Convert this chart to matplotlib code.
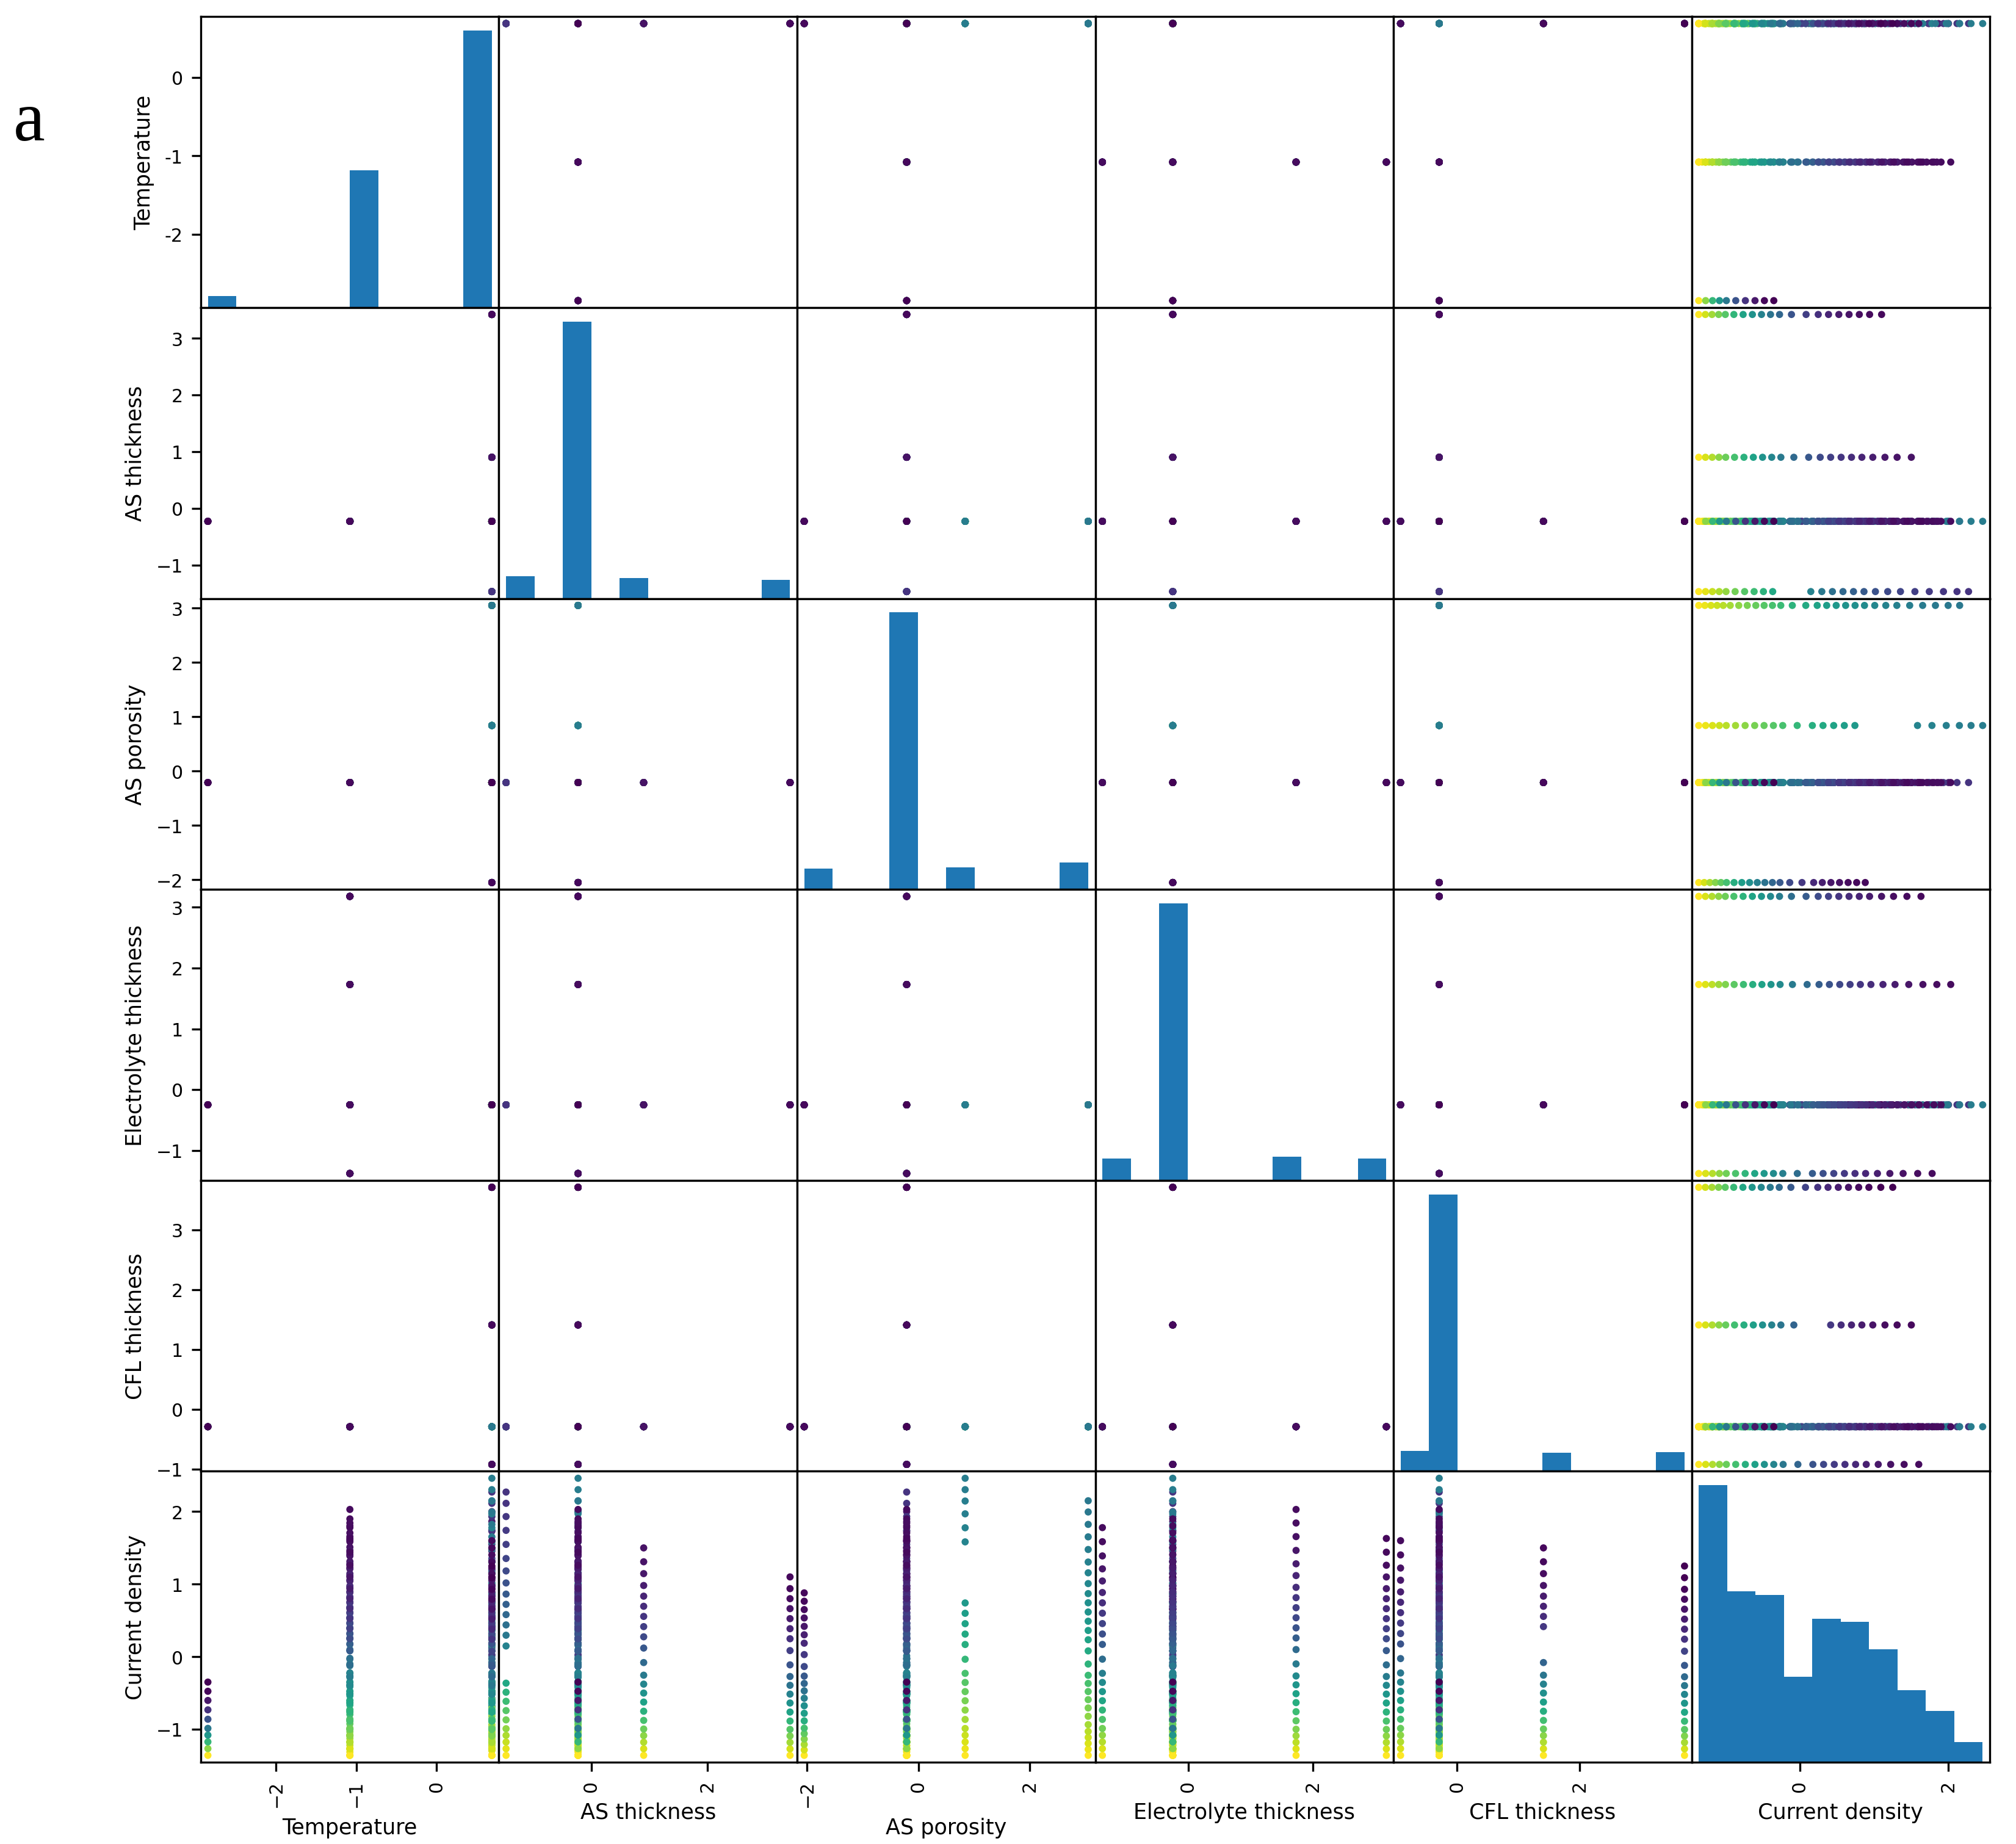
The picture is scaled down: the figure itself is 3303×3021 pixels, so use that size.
import numpy as np
import pandas as pd
import matplotlib
matplotlib.use("Agg")
import matplotlib.pyplot as plt
from matplotlib.ticker import MaxNLocator
from pandas.plotting import scatter_matrix

# ----- standardized settings of each run (one polarization sweep per run) -----
# order matters: later runs are drawn on top
run_temperature = [0.69, 0.69, 0.69, 0.69, 0.69, 0.69, 0.69, 0.69, 0.69, 0.69,
                   -1.08, -1.08, -1.08, -1.08, -2.85]
run_as_thickness = [-0.23, -1.47, 0.90, 3.42, -0.23, -0.23, -0.23, -0.23, -0.23, -0.23,
                    -0.23, -0.23, -0.23, -0.23, -0.23]
run_as_porosity = [-0.21, -0.21, -0.21, -0.21, -2.05, 0.84, 3.05, -0.21, -0.21, -0.21,
                   -0.21, -0.21, -0.21, -0.21, -0.21]
run_electrolyte = [-0.25, -0.25, -0.25, -0.25, -0.25, -0.25, -0.25, -0.25, -0.25, -0.25,
                   -1.38, -0.25, 1.73, 3.18, -0.25]
run_cfl = [-0.29, -0.29, -0.29, -0.29, -0.29, -0.29, -0.29, -0.92, 1.41, 3.71,
           -0.29, -0.29, -0.29, -0.29, -0.29]

# highest current density reached by each sweep, and colour value at its end
run_cd_max = [2.00, 2.27, 1.50, 1.10, 0.88, 2.46, 2.15, 1.60, 1.50, 1.25,
              1.78, 1.90, 2.03, 1.63, -0.35]
run_c_end = [0.08, 0.15, 0.05, 0.02, 0.02, 0.42, 0.40, 0.03, 0.02, 0.00,
             0.03, 0.03, 0.03, 0.02, 0.00]
# how finely each run was sampled (the two reference runs carry more points)
run_sampling = [1.4, 1.0, 1.0, 1.0, 1.2, 1.0, 1.1, 1.0, 1.0, 1.0,
                1.0, 1.95, 1.0, 1.0, 1.0]
# stretches of current density with no samples
run_gaps = {1: (-0.26, -0.01), 5: (0.77, 1.42), 8: (0.06, 0.33)}

# every sweep starts at open circuit
cd_min = -1.36
# sample density of the sweeps (points per unit current density), from the histogram
cd_bin_edges = np.linspace(-1.36, 2.46, 11)
cd_density = [11.0, 7.9, 8.1, 5.0, 7.1, 7.15, 6.1, 5.2, 5.3, 6.5]

columns = ["Temperature", "AS thickness", "AS porosity",
           "Electrolyte thickness", "CFL thickness", "Current density"]


def build_table():
    w_edges = np.concatenate([[0.0], np.cumsum(np.array(cd_density) * np.diff(cd_bin_edges))])
    rows = []
    colors = []
    for i in range(len(run_cd_max)):
        w_end = np.interp(run_cd_max[i], cd_bin_edges, w_edges)
        n = int(round(w_end * run_sampling[i])) + 1
        cd = np.interp(np.linspace(0, w_end, n), w_edges, cd_bin_edges)
        frac = (cd - cd_min) / (run_cd_max[i] - cd_min)
        col = run_c_end[i] + (1 - run_c_end[i]) * (1 - frac) ** 2
        keep = np.ones(len(cd), dtype=bool)
        if i in run_gaps:
            lo, hi = run_gaps[i]
            keep = ~((cd > lo) & (cd < hi))
        for v, c in zip(cd[keep], col[keep]):
            rows.append([run_temperature[i], run_as_thickness[i], run_as_porosity[i],
                         run_electrolyte[i], run_cfl[i], v])
            colors.append(c)
    return pd.DataFrame(rows, columns=columns), np.array(colors)


def main():
    df, colors = build_table()

    plt.rcParams["axes.labelsize"] = 8.4
    axes = scatter_matrix(df, c=colors, cmap="viridis", figsize=(11.01, 10.073),
                          alpha=1.0, marker="o", s=8, linewidths=0, edgecolors="none",
                          diagonal="hist")
    fig = plt.gcf()
    fig.subplots_adjust(left=0.0996, right=0.987, top=0.9907, bottom=0.0443,
                        wspace=0, hspace=0)
    for ax in axes.flat:
        ax.tick_params(labelsize=7.2)
    # bottom row: fewer x ticks, as in the original
    for ax in axes[-1]:
        ax.xaxis.set_major_locator(MaxNLocator(nbins=4, steps=[1, 2, 2.5, 5, 10]))

    fig.text(0.0067, 1 - 230 / 3022, "a", family=["Liberation Serif", "DejaVu Serif"],
             fontsize=28, va="baseline")

    fig.savefig("out.png", dpi=300)


if __name__ == "__main__":
    main()
